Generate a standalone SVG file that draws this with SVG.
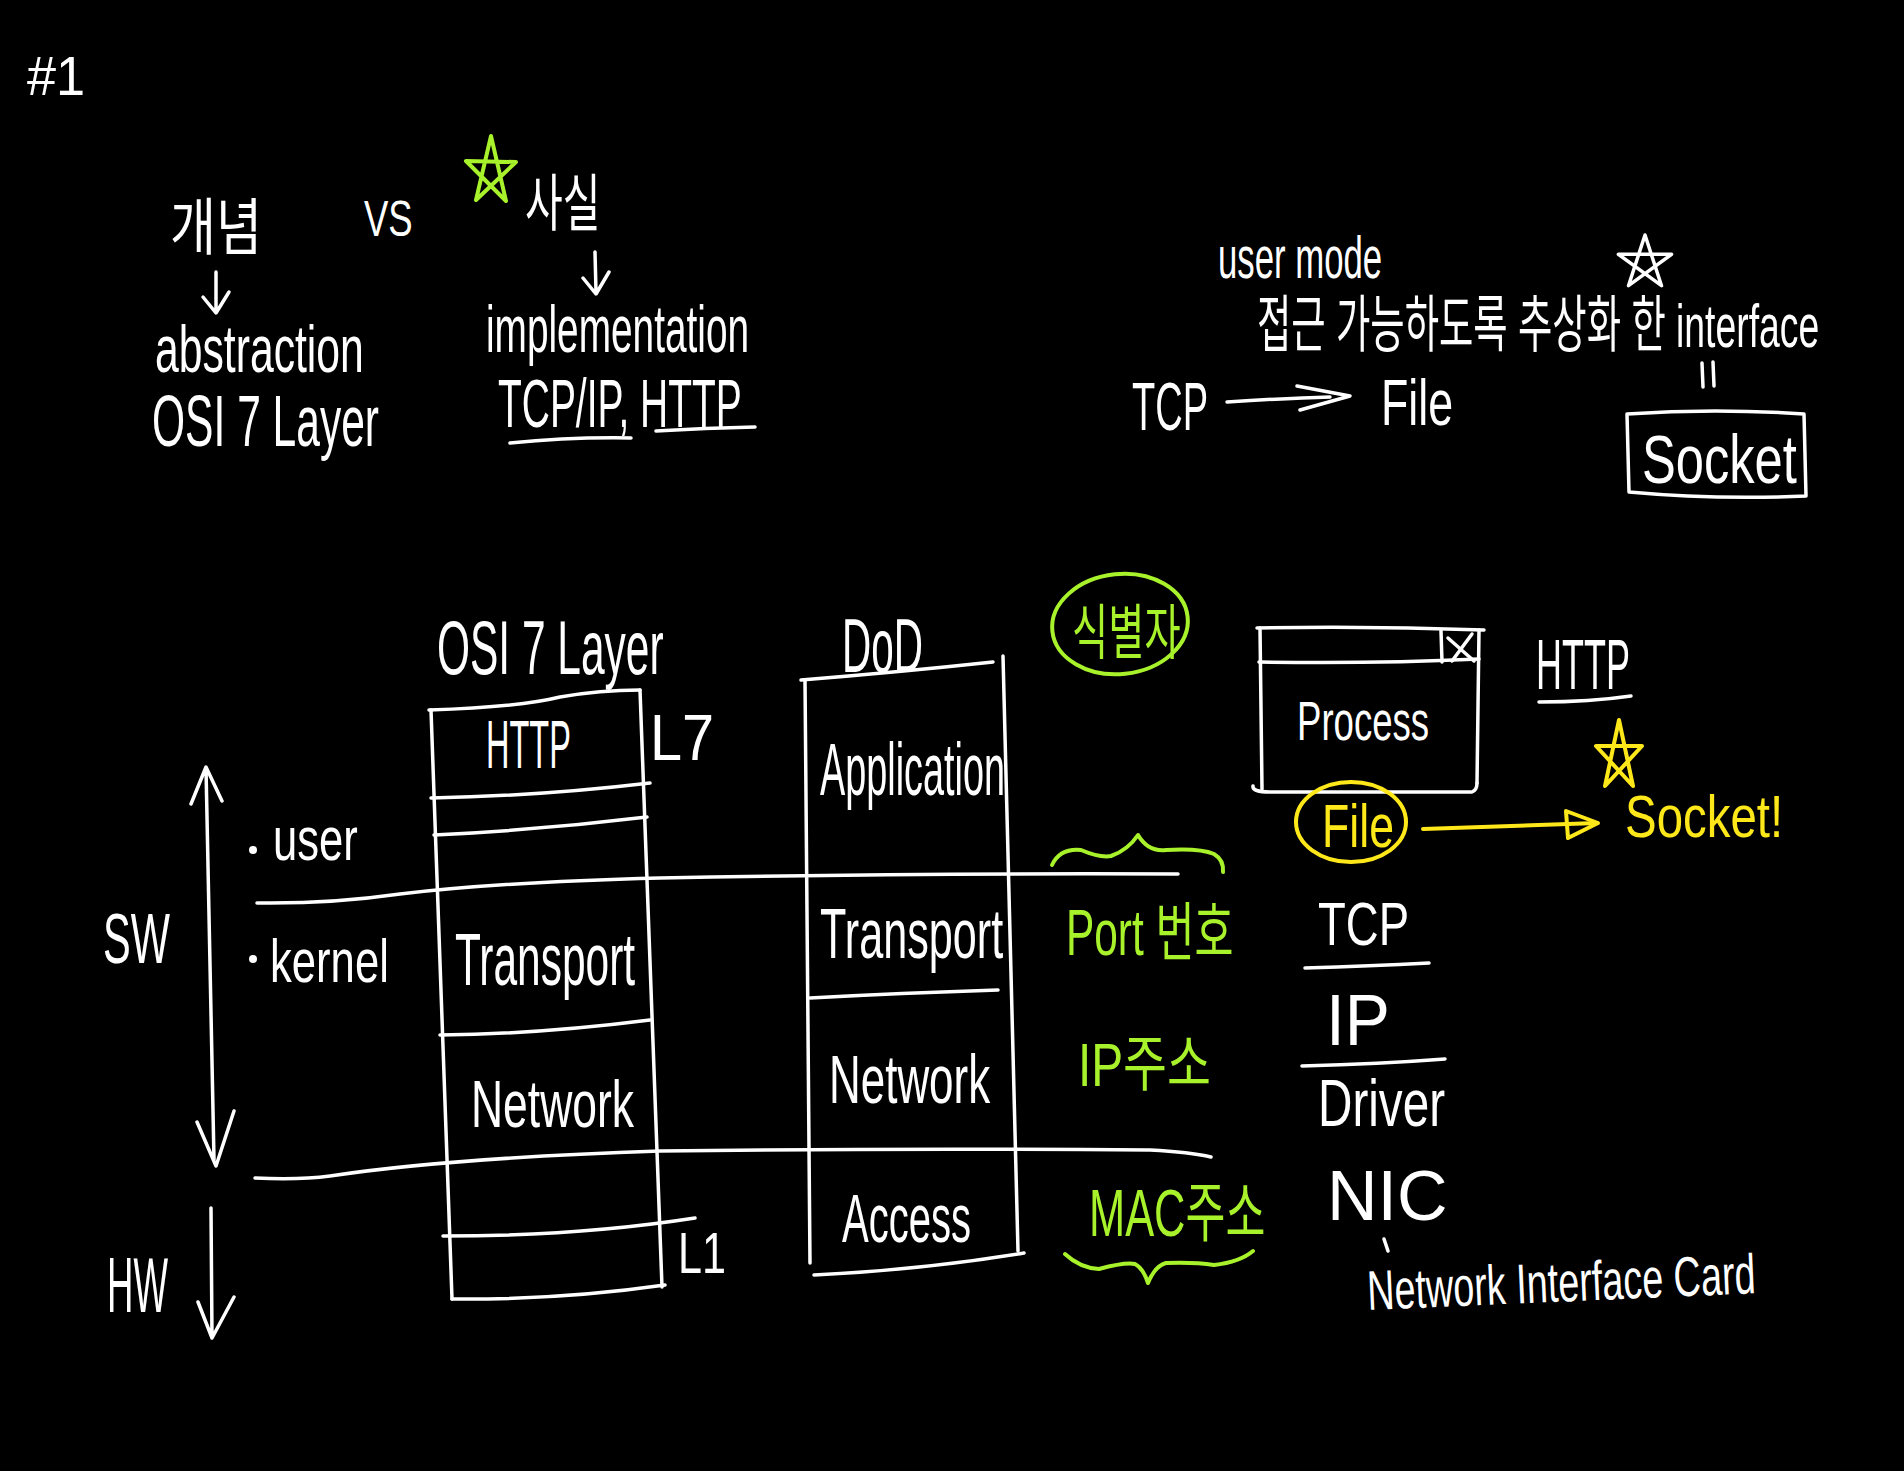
<svg xmlns="http://www.w3.org/2000/svg" width="1904" height="1471" viewBox="0 0 1904 1471">
<style>
text{font-family:"Liberation Sans","Noto Sans CJK KR",sans-serif;fill:#fff;}
.g text,text.g{fill:#a8f22c;}
.yl text,text.yl{fill:#ffe81a;}
.ln{fill:none;stroke:#fff;stroke-width:3.5;stroke-linecap:round;stroke-linejoin:round;}
.lg{fill:none;stroke:#a8f22c;stroke-width:4;stroke-linecap:round;stroke-linejoin:round;}
.ly{fill:none;stroke:#ffe81a;stroke-width:4;stroke-linecap:round;stroke-linejoin:round;}
</style>
<rect width="1904" height="1471" fill="#000"/>

<g id="title"><text x="27" y="95" font-size="55" transform="matrix(.95 0 0 1 1.35 0)">#1</text></g>

<g id="concept">
<text x="170" y="250" font-size="62" transform="matrix(.806 0 0 1 33 0)">개념</text>
<text x="155" y="372" font-size="66" transform="matrix(.647 0 0 1 54.7 0)">abstraction</text>
<text x="152" y="446" font-size="72" transform="matrix(.591 0 0 1 62.2 0)">OSI 7 Layer</text>
</g>
<g id="vs"><text x="364" y="236" font-size="50" transform="matrix(.73 0 0 1 98.3 0)">VS</text></g>
<g id="fact">
<path class="lg" d="M491,136 L506,201 L466,161 L516,162 L476,200 Z"/>
<text x="525" y="226" font-size="62" transform="matrix(.661 0 0 1 178 0)">사실</text>
<text x="486" y="352" font-size="66" transform="matrix(.588 0 0 1 200.2 0)">implementation</text>
<text x="498" y="427" font-size="68" transform="matrix(.573 0 0 1 212.6 0)">TCP/IP, HTTP</text>
<path class="ln" d="M510,443 Q570,437 631,438" stroke-width="5"/>
<path class="ln" d="M656,431 Q705,428 755,427" stroke-width="5"/>
</g>

<g id="usermode">
<text x="1218" y="278" font-size="60" transform="matrix(.579 0 0 1 512.8 0)">user mode</text>
<text x="1257" y="347" font-size="62" transform="matrix(.602 0 0 1 500.3 0)">접근 가능하도록 추상화 한 interface</text>
<path class="ln" d="M1645,235 L1661.5,285.7 L1618.4,254.3 L1671.6,254.3 L1628.5,285.7 Z"/>
<path class="ln" d="M1702,363 L1703,387 M1713,362 L1714,386"/>
</g>
<g id="socket-box">
<path class="ln" d="M1627,414 Q1715,408 1804,414 L1806,496 Q1716,500 1629,492 Z"/>
<text x="1642" y="483" font-size="68" transform="matrix(.745 0 0 1 418.7 0)">Socket</text>
</g>
<g id="tcp-top"><text x="1132" y="430" font-size="68" transform="matrix(.559 0 0 1 499.2 0)">TCP</text></g>
<g id="file-top"><text x="1381" y="425" font-size="64" transform="matrix(.699 0 0 1 415.7 0)">File</text></g>

<g id="sw-hw">
<text x="103" y="963" font-size="70" transform="matrix(.593 0 0 1 41.9 0)">SW</text>
<text x="107" y="1312" font-size="78" transform="matrix(.469 0 0 1 56.8 0)">HW</text>
<circle cx="253" cy="850" r="4" fill="#fff"/>
<text x="273" y="860" font-size="62" transform="matrix(.703 0 0 1 81.1 0)">user</text>
<circle cx="253" cy="959" r="4" fill="#fff"/>
<text x="270" y="982" font-size="62" transform="matrix(.704 0 0 1 79.9 0)">kernel</text>
</g>

<g id="osi-layer">
<text x="437" y="674" font-size="76" transform="matrix(.559 0 0 1 192.7 0)">OSI 7 Layer</text>
<path class="ln" d="M429,710 Q520,707 560,697 Q600,690 640,690"/>
<path class="ln" d="M431,710 L452,1299 M640,690 L662,1287"/>
<path class="ln" d="M431,798 Q540,796 650,783"/>
<path class="ln" d="M434,835 Q540,830 647,817"/>
<path class="ln" d="M440,1035 Q540,1034 650,1020"/>
<path class="ln" d="M443,1236 Q580,1236 695,1218"/>
<path class="ln" d="M452,1299 Q560,1300 665,1285"/>
<text x="486" y="768" font-size="68" transform="matrix(.478 0 0 1 253.7 0)">HTTP</text>
<text x="650" y="760" font-size="64" transform="matrix(.9 0 0 1 65 0)">L7</text>
<text x="455" y="985" font-size="74" transform="matrix(.574 0 0 1 193.8 0)">Transport</text>
<text x="471" y="1127" font-size="66" transform="matrix(.674 0 0 1 153.5 0)">Network</text>
<text x="678" y="1273" font-size="58" transform="matrix(.744 0 0 1 173.6 0)">L1</text>
</g>

<g id="dod">
<text x="842" y="672" font-size="76" transform="matrix(.533 0 0 1 393.2 0)">DoD</text>
<path class="ln" d="M801,680 Q900,672 993,662"/>
<path class="ln" d="M805,680 L810,1263 M1003,656 L1018,1251"/>
<path class="ln" d="M810,998 Q900,993 998,990"/>
<path class="ln" d="M814,1275 Q920,1270 1024,1253"/>
<text x="820" y="795" font-size="74" transform="matrix(.511 0 0 1 401 0)">Application</text>
<text x="820" y="958" font-size="70" transform="matrix(.617 0 0 1 314.1 0)">Transport</text>
<text x="829" y="1103" font-size="68" transform="matrix(.646 0 0 1 293.5 0)">Network</text>
<text x="842" y="1242" font-size="68" transform="matrix(.589 0 0 1 346.1 0)">Access</text>
</g>

<g id="identifier" class="g">
<ellipse class="lg" cx="1120" cy="624" rx="68" ry="50" transform="rotate(-6 1120 624)"/>
<text x="1072" y="654" font-size="60" transform="matrix(.656 0 0 1 368.8 0)">식별자</text>
<path class="lg" d="M1052,865 Q1060,848 1081,850 Q1100,858 1111,856 Q1128,850 1138,835 Q1148,852 1166,850 Q1200,848 1214,854 Q1224,860 1223,872"/>
<text x="1066" y="955" font-size="64" transform="matrix(.663 0 0 1 359.2 0)">Port 번호</text>
<text x="1078" y="1086" font-size="62" transform="matrix(.77 0 0 1 247.9 0)">IP주소</text>
<text x="1089" y="1236" font-size="66" transform="matrix(.658 0 0 1 372.4 0)">MAC주소</text>
<path class="lg" d="M1065,1254 Q1080,1268 1099,1269 Q1125,1262 1135,1264 Q1143,1268 1148,1283 Q1155,1266 1166,1263 Q1195,1262 1214,1265 Q1240,1262 1253,1251"/>
</g>

<g id="process">
<path class="ln" d="M1257,628 Q1370,626 1484,630"/>
<path class="ln" d="M1260,628 L1262,789 M1479,630 L1477,783"/>
<path class="ln" d="M1259,662 Q1370,664 1479,659"/>
<path class="ln" d="M1441,631 L1442,662 M1448,638 L1474,661 M1472,634 L1452,661"/>
<path class="ln" d="M1253,786 Q1252,792 1270,792 L1472,792 Q1477,790 1477,783"/>
<text x="1297" y="740" font-size="56" transform="matrix(.653 0 0 1 450.1 0)">Process</text>
</g>

<g id="http-right">
<text x="1536" y="689" font-size="70" transform="matrix(.514 0 0 1 746.5 0)">HTTP</text>
<path class="ln" d="M1539,702 Q1590,702 1631,696"/>
</g>

<g id="file-socket" class="yl">
<ellipse class="ly" cx="1351" cy="822" rx="55" ry="40"/>
<text x="1322" y="847" font-size="62" transform="matrix(.72 0 0 1 370.2 0)">File</text>
<path class="ly" d="M1619,720 L1633,786 L1596,746 L1642,746 L1605,786 Z"/>
<text x="1625" y="837" font-size="60" transform="matrix(.79 0 0 1 341.3 0)">Socket!</text>
</g>

<g id="stack-right">
<text x="1318" y="945" font-size="62" transform="matrix(.734 0 0 1 350.6 0)">TCP</text>
<path class="ln" d="M1305,968 Q1370,966 1429,963"/>
<text x="1326" y="1045" font-size="72" transform="matrix(.94 0 0 1 79.6 0)">IP</text>
<path class="ln" d="M1302,1066 Q1380,1064 1445,1059"/>
<text x="1318" y="1126" font-size="66" transform="matrix(.722 0 0 1 366.4 0)">Driver</text>
<text x="1327" y="1220" font-size="70">NIC</text>
<path class="ln" d="M1384,1239 L1388,1251" stroke-width="2.5"/>
<text x="1368" y="1310" font-size="56" transform="rotate(-2.5 1368 1310) matrix(.675 0 0 1 444.6 0)">Network Interface Card</text>
</g>

<g id="connectors">
<path class="ln" d="M216,272 L216,312 M203,297 L216,313 L229,292"/>
<path class="ln" d="M595,252 L596,292 M583,278 L596,294 L609,272"/>
<path class="ln" d="M1227,402 Q1290,398 1330,397 M1297,386 L1350,396 L1300,410"/>
<path class="ln" d="M206,768 L214,1160 M191,804 L206,767 L222,801 M197,1122 L216,1166 L234,1111"/>
<path class="ln" d="M211,1208 L212,1338 M198,1302 L212,1338 L234,1297"/>
<path class="ln" d="M257,903 Q330,904 400,894 Q500,882 660,878 Q900,873 1178,874"/>
<path class="ln" d="M255,1178 Q300,1180 330,1176 Q450,1158 660,1151 Q900,1148 1150,1150 Q1190,1152 1211,1157"/>
<path class="ly" d="M1423,829 Q1500,826 1597,823"/>
<path class="ly" d="M1566,811 L1598,823 L1568,838 Z" fill="#ffe81a" fill-opacity="0.35"/>
</g>
</svg>
